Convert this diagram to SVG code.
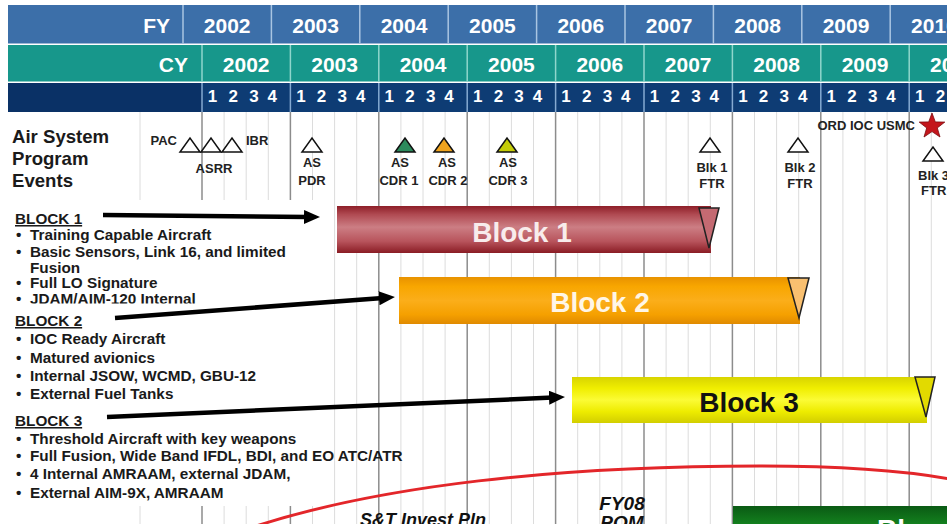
<svg xmlns="http://www.w3.org/2000/svg" width="947" height="524" viewBox="0 0 947 524">
<defs>
<style>
text{font-family:"Liberation Sans",Arial,sans-serif;font-weight:bold}
.hdr{fill:#fff;font-size:21px;text-anchor:middle}
.q{fill:#fff;font-size:17px;text-anchor:middle}
.yl{stroke:#8c8c8c;stroke-width:1.5}
.ql{stroke:#dcdcdc;stroke-width:1}
.fs{stroke:#a9c5e2;stroke-width:1.5}
.cs{stroke:#8fd6cc;stroke-width:1.5}
.qs{stroke:#86aad2;stroke-width:1.5}
.ev{font-size:13px;fill:#222;text-anchor:middle}
.tri{stroke:#111;stroke-width:1.5;fill:#fff}
.lt{font-size:15.3px;fill:#1a1a1a}
.hd{font-size:15.3px;fill:#1a1a1a;text-decoration:underline}
.bt{font-size:28px;text-anchor:middle}
.arr{stroke:#000;stroke-width:4.5;fill:none;marker-end:url(#ah)}
.it{font-size:18px;font-style:italic;fill:#111}
</style>
<marker id="ah" markerUnits="userSpaceOnUse" markerWidth="16" markerHeight="14" refX="4" refY="7" viewBox="0 0 16 14" orient="auto"><path d="M0,0 L16,7 L0,14 z" fill="#000"/></marker>
<linearGradient id="g1" x1="0" y1="0" x2="0" y2="1"><stop offset="0" stop-color="#8e1f28"/><stop offset="0.18" stop-color="#b04a52"/><stop offset="0.45" stop-color="#cc7e84"/><stop offset="0.75" stop-color="#b8545c"/><stop offset="1" stop-color="#8a1c24"/></linearGradient>
<linearGradient id="g2" x1="0" y1="0" x2="0" y2="1"><stop offset="0" stop-color="#e89200"/><stop offset="0.2" stop-color="#f8a600"/><stop offset="0.5" stop-color="#fbae1a"/><stop offset="0.8" stop-color="#f5a000"/><stop offset="1" stop-color="#e08a00"/></linearGradient>
<linearGradient id="g3" x1="0" y1="0" x2="0" y2="1"><stop offset="0" stop-color="#d8d400"/><stop offset="0.25" stop-color="#f0ee00"/><stop offset="0.5" stop-color="#fbfb35"/><stop offset="0.75" stop-color="#eeec00"/><stop offset="1" stop-color="#d2ce00"/></linearGradient>
<linearGradient id="g4" x1="0" y1="0" x2="0" y2="1"><stop offset="0" stop-color="#0a5a14"/><stop offset="1" stop-color="#14841f"/></linearGradient>
<clipPath id="clipJ"><rect x="0" y="290" width="330" height="13.5"/></clipPath>
</defs>
<rect width="947" height="524" fill="#fff"/>

<!-- grid -->
<g id="grid">
<g class="ql">
<line x1="140" y1="112" x2="140" y2="524"/>
<line x1="224.1" y1="112" x2="224.1" y2="524"/><line x1="246.2" y1="112" x2="246.2" y2="524"/><line x1="268.3" y1="112" x2="268.3" y2="524"/>
<line x1="312.5" y1="112" x2="312.5" y2="524"/><line x1="334.6" y1="112" x2="334.6" y2="524"/><line x1="356.7" y1="112" x2="356.7" y2="524"/>
<line x1="400.9" y1="112" x2="400.9" y2="524"/><line x1="423" y1="112" x2="423" y2="524"/><line x1="445.1" y1="112" x2="445.1" y2="524"/>
<line x1="489.3" y1="112" x2="489.3" y2="524"/><line x1="511.4" y1="112" x2="511.4" y2="524"/><line x1="533.5" y1="112" x2="533.5" y2="524"/>
<line x1="577.7" y1="112" x2="577.7" y2="524"/><line x1="599.8" y1="112" x2="599.8" y2="524"/><line x1="621.9" y1="112" x2="621.9" y2="524"/>
<line x1="666.1" y1="112" x2="666.1" y2="524"/><line x1="688.2" y1="112" x2="688.2" y2="524"/><line x1="710.3" y1="112" x2="710.3" y2="524"/>
<line x1="754.5" y1="112" x2="754.5" y2="524"/><line x1="776.6" y1="112" x2="776.6" y2="524"/><line x1="798.7" y1="112" x2="798.7" y2="524"/>
<line x1="842.9" y1="112" x2="842.9" y2="524"/><line x1="865" y1="112" x2="865" y2="524"/><line x1="887.1" y1="112" x2="887.1" y2="524"/>
<line x1="931.3" y1="112" x2="931.3" y2="524"/>
</g>
<g class="yl">
<line x1="202" y1="112" x2="202" y2="524"/><line x1="290.4" y1="112" x2="290.4" y2="524"/><line x1="378.8" y1="112" x2="378.8" y2="524"/>
<line x1="467.2" y1="112" x2="467.2" y2="524"/><line x1="555.6" y1="112" x2="555.6" y2="524"/><line x1="644" y1="112" x2="644" y2="524"/>
<line x1="732.4" y1="112" x2="732.4" y2="524"/><line x1="820.8" y1="112" x2="820.8" y2="524"/><line x1="909.2" y1="112" x2="909.2" y2="524"/>
</g>
<rect x="0" y="200" width="325" height="306" fill="#fff"/>
</g>

<!-- header -->
<g id="header">
<rect x="8" y="5" width="939" height="38.5" fill="#3c6fa9"/>
<rect x="8" y="45" width="939" height="36.5" fill="#17978b"/>
<rect x="8" y="83" width="939" height="29" fill="#0e3c74"/>
<rect x="8" y="83" width="194" height="29" fill="#0a3166"/>
<g class="fs"><line x1="183" y1="5" x2="183" y2="43.5"/><line x1="271.4" y1="5" x2="271.4" y2="43.5"/><line x1="359.8" y1="5" x2="359.8" y2="43.5"/><line x1="448.2" y1="5" x2="448.2" y2="43.5"/><line x1="536.6" y1="5" x2="536.6" y2="43.5"/><line x1="625" y1="5" x2="625" y2="43.5"/><line x1="713.4" y1="5" x2="713.4" y2="43.5"/><line x1="801.8" y1="5" x2="801.8" y2="43.5"/><line x1="890.2" y1="5" x2="890.2" y2="43.5"/></g>
<g class="cs"><line x1="202" y1="45" x2="202" y2="81.5"/><line x1="290.4" y1="45" x2="290.4" y2="81.5"/><line x1="378.8" y1="45" x2="378.8" y2="81.5"/><line x1="467.2" y1="45" x2="467.2" y2="81.5"/><line x1="555.6" y1="45" x2="555.6" y2="81.5"/><line x1="644" y1="45" x2="644" y2="81.5"/><line x1="732.4" y1="45" x2="732.4" y2="81.5"/><line x1="820.8" y1="45" x2="820.8" y2="81.5"/><line x1="909.2" y1="45" x2="909.2" y2="81.5"/></g>
<g class="qs"><line x1="202" y1="83" x2="202" y2="112"/><line x1="290.4" y1="83" x2="290.4" y2="112"/><line x1="378.8" y1="83" x2="378.8" y2="112"/><line x1="467.2" y1="83" x2="467.2" y2="112"/><line x1="555.6" y1="83" x2="555.6" y2="112"/><line x1="644" y1="83" x2="644" y2="112"/><line x1="732.4" y1="83" x2="732.4" y2="112"/><line x1="820.8" y1="83" x2="820.8" y2="112"/><line x1="909.2" y1="83" x2="909.2" y2="112"/></g>
<text x="170" y="33" class="hdr" style="text-anchor:end">FY</text>
<text x="188" y="72" class="hdr" style="text-anchor:end">CY</text>
<text y="33" class="hdr"><tspan x="227.2">2002</tspan><tspan x="315.6">2003</tspan><tspan x="404">2004</tspan><tspan x="492.4">2005</tspan><tspan x="580.8">2006</tspan><tspan x="669.2">2007</tspan><tspan x="757.6">2008</tspan><tspan x="846">2009</tspan><tspan x="934.4">2010</tspan></text>
<text y="72" class="hdr"><tspan x="246.2">2002</tspan><tspan x="334.6">2003</tspan><tspan x="423">2004</tspan><tspan x="511.4">2005</tspan><tspan x="599.8">2006</tspan><tspan x="688.2">2007</tspan><tspan x="776.6">2008</tspan><tspan x="865">2009</tspan><tspan x="953.4">2010</tspan></text>
<text y="102" class="q">
<tspan x="212.5">1</tspan><tspan x="233.2">2</tspan><tspan x="253.9">3</tspan><tspan x="274.6">4</tspan>
<tspan x="300.9">1</tspan><tspan x="321.6">2</tspan><tspan x="342.3">3</tspan><tspan x="363">4</tspan>
<tspan x="389.3">1</tspan><tspan x="410">2</tspan><tspan x="430.7">3</tspan><tspan x="451.4">4</tspan>
<tspan x="477.7">1</tspan><tspan x="498.4">2</tspan><tspan x="519.1">3</tspan><tspan x="539.8">4</tspan>
<tspan x="566.1">1</tspan><tspan x="586.8">2</tspan><tspan x="607.5">3</tspan><tspan x="628.2">4</tspan>
<tspan x="654.5">1</tspan><tspan x="675.2">2</tspan><tspan x="695.9">3</tspan><tspan x="716.6">4</tspan>
<tspan x="742.9">1</tspan><tspan x="763.6">2</tspan><tspan x="784.3">3</tspan><tspan x="805">4</tspan>
<tspan x="831.3">1</tspan><tspan x="852">2</tspan><tspan x="872.7">3</tspan><tspan x="893.4">4</tspan>
<tspan x="919.7">1</tspan><tspan x="940.4">2</tspan>
</text>
</g>

<!-- events -->
<g id="events-label"><text x="12" y="143" style="font-size:18.6px;fill:#1a1a1a"><tspan x="12">Air System</tspan><tspan x="12" y="165">Program</tspan><tspan x="12" y="187">Events</tspan></text></g>
<g id="ev-pac"><polygon class="tri" points="180,152 200,152 190,138"/><text x="177" y="145" class="ev" style="text-anchor:end">PAC</text></g>
<g id="ev-asrr"><polygon class="tri" points="201,152 221,152 211,138"/><text x="214" y="173" class="ev">ASRR</text></g>
<g id="ev-ibr"><polygon class="tri" points="222,152 242,152 232,138"/><text x="246" y="145" class="ev" style="text-anchor:start">IBR</text></g>
<g id="ev-pdr"><polygon class="tri" points="302,152 322,152 312,138"/><text class="ev"><tspan x="312" y="167">AS</tspan><tspan x="312" y="185">PDR</tspan></text></g>
<g id="ev-cdr1"><polygon class="tri" style="fill:#2c8a5c" points="395,152 415,152 405,138"/><text class="ev"><tspan x="400" y="167">AS</tspan><tspan x="399" y="185">CDR 1</tspan></text></g>
<g id="ev-cdr2"><polygon class="tri" style="fill:#f0a41e" points="434,152 454,152 444,138"/><text class="ev"><tspan x="447" y="167">AS</tspan><tspan x="448" y="185">CDR 2</tspan></text></g>
<g id="ev-cdr3"><polygon class="tri" style="fill:#c4cc08" points="497,152 517,152 507,138"/><text class="ev"><tspan x="508" y="167">AS</tspan><tspan x="508" y="185">CDR 3</tspan></text></g>
<g id="ev-blk1"><polygon class="tri" points="700,152 720,152 710,138"/><text class="ev"><tspan x="712" y="172">Blk 1</tspan><tspan x="712" y="188">FTR</tspan></text></g>
<g id="ev-blk2"><polygon class="tri" points="788,152 808,152 798,138"/><text class="ev"><tspan x="800" y="172">Blk 2</tspan><tspan x="800" y="188">FTR</tspan></text></g>
<g id="ev-ioc"><text x="915" y="130" class="ev" style="text-anchor:end">ORD IOC USMC</text><polygon points="932,113 935.3,121.9 944.8,122.1 937.3,127.9 940,137 932,131.6 924,137 926.7,127.9 919.2,122.1 928.7,121.9" fill="#c4161c" stroke="#7a0a0e" stroke-width="0.8"/></g>
<g id="ev-blk3"><polygon class="tri" points="923,161 943,161 933,147"/><text class="ev" style="text-anchor:start"><tspan x="918" y="180">Blk 3</tspan><tspan x="921" y="195">FTR</tspan></text></g>

<!-- left text -->
<g id="text-block1">
<text x="15" y="224" class="hd">BLOCK 1</text>
<text class="lt"><tspan x="16" y="240">•</tspan><tspan x="30">Training Capable Aircraft</tspan></text>
<text class="lt"><tspan x="16" y="256.5">•</tspan><tspan x="30">Basic Sensors, Link 16, and limited</tspan></text>
<text class="lt" x="30" y="272.5">Fusion</text>
<text class="lt"><tspan x="16" y="288">•</tspan><tspan x="30">Full LO Signature</tspan></text>
<text class="lt" clip-path="url(#clipJ)"><tspan x="16" y="304">•</tspan><tspan x="30">JDAM/AIM-120 Internal</tspan></text>
</g>
<g id="text-block2">
<text x="15" y="326" class="hd">BLOCK 2</text>
<text class="lt"><tspan x="16" y="344">•</tspan><tspan x="30">IOC Ready Aircraft</tspan></text>
<text class="lt"><tspan x="16" y="363">•</tspan><tspan x="30">Matured avionics</tspan></text>
<text class="lt"><tspan x="16" y="381">•</tspan><tspan x="30">Internal JSOW, WCMD, GBU-12</tspan></text>
<text class="lt"><tspan x="16" y="399">•</tspan><tspan x="30">External Fuel Tanks</tspan></text>
</g>
<g id="text-block3">
<text x="15" y="426" class="hd">BLOCK 3</text>
<text class="lt"><tspan x="16" y="444">•</tspan><tspan x="30">Threshold Aircraft with key weapons</tspan></text>
<text class="lt"><tspan x="16" y="461">•</tspan><tspan x="30">Full Fusion, Wide Band IFDL, BDI, and EO ATC/ATR</tspan></text>
<text class="lt"><tspan x="16" y="479">•</tspan><tspan x="30">4 Internal AMRAAM, external JDAM,</tspan></text>
<text class="lt"><tspan x="16" y="498">•</tspan><tspan x="30">External AIM-9X, AMRAAM</tspan></text>
</g>

<!-- bars -->
<g id="bar-block1"><rect x="337" y="206" width="374" height="47" fill="url(#g1)"/><polygon points="699,208 719,208 709,248" fill="#c46a72" stroke="#222" stroke-width="1.5"/><text x="522" y="242" class="bt" fill="#f8ecec">Block 1</text></g>
<g id="bar-block2"><rect x="399" y="277" width="401" height="47" fill="url(#g2)"/><polygon points="788,278 809,278 799,318" fill="#f9c070" stroke="#222" stroke-width="1.5"/><text x="600" y="312" class="bt" fill="#fff6e6">Block 2</text></g>
<g id="bar-block3"><rect x="572" y="377" width="355" height="46" fill="url(#g3)"/><polygon points="915,377 935,377 926,417" fill="#e2da00" stroke="#222" stroke-width="1.5"/><text x="749" y="412" class="bt" fill="#111">Block 3</text></g>
<g id="bar-block4"><rect x="733" y="506" width="220" height="20" fill="url(#g4)"/><text x="877" y="539" class="bt" fill="#fff" style="text-anchor:start">Bl</text></g>

<!-- curve and notes -->
<g id="curve"><path d="M250,528 C380,485 560,466 760,466 C840,466 900,470 950,479" fill="none" stroke="#e3262a" stroke-width="3"/></g>
<g id="note-st"><text x="360" y="526" class="it">S&amp;T Invest Pln</text></g>
<g id="note-pom"><text class="it" style="font-size:19px;text-anchor:middle"><tspan x="622" y="510">FY08</tspan><tspan x="622" y="529">POM</tspan></text></g>

<!-- connectors -->
<g id="connectors">
<path class="arr" d="M103,215 L308,217"/>
<path class="arr" d="M115,318 L383,298"/>
<path class="arr" d="M107,417 L553,397.5"/>
</g>
</svg>
